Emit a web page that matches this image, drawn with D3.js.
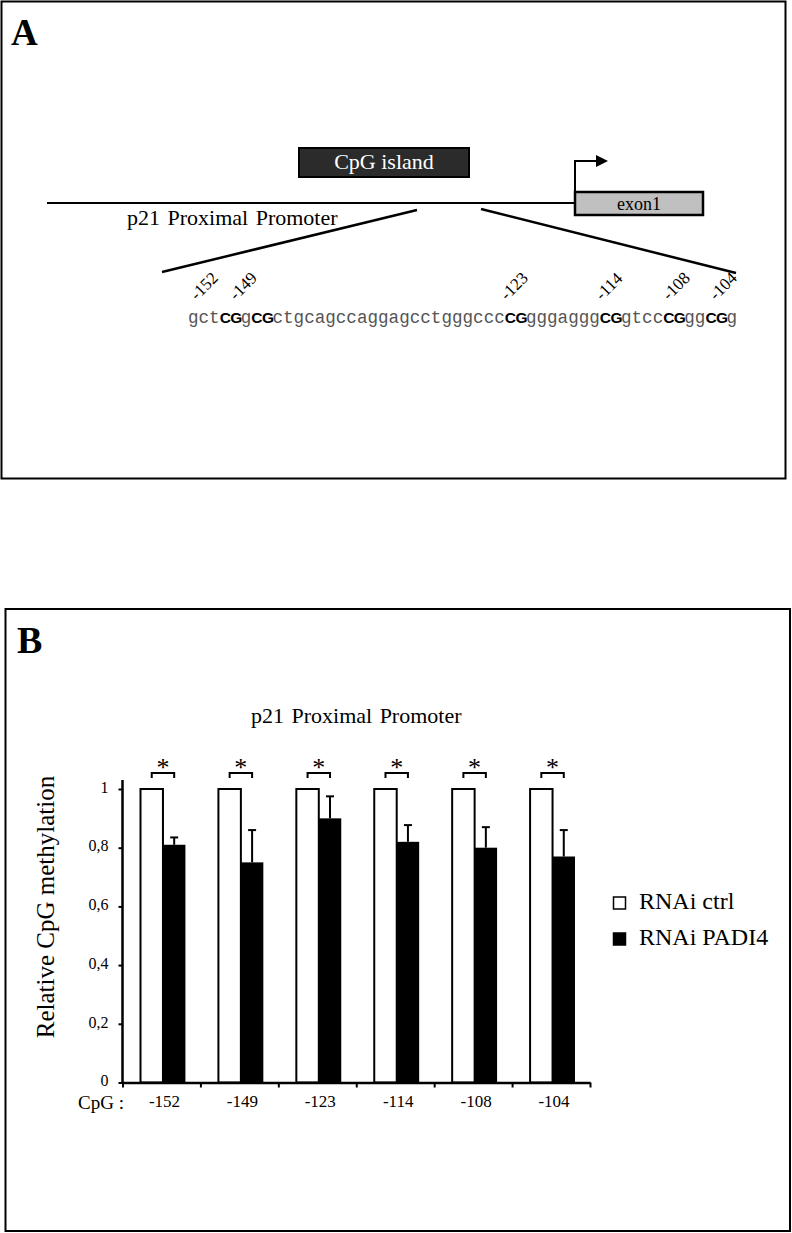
<!DOCTYPE html>
<html>
<head>
<meta charset="utf-8">
<script src="https://cdn.jsdelivr.net/npm/d3@7"></script>
<style>
  body { margin: 0; background: #fff; }
  svg { display: block; }
  text { font-family: "Liberation Serif", "Times New Roman", serif; fill: #000; }
</style>
</head>
<body>
<script>
// data
const cpgSites = ["-152", "-149", "-123", "-114", "-108", "-104"];
const ctrlValues = [1, 1, 1, 1, 1, 1];
const padi4Values = [0.81, 0.75, 0.90, 0.82, 0.80, 0.77];
const padi4Errors = [0.025, 0.11, 0.075, 0.057, 0.07, 0.09];
const yTicks = [0, 0.2, 0.4, 0.6, 0.8, 1];
const seriesNames = ["RNAi ctrl", "RNAi PADI4"];
const seqParts = ["gct", "CG", "g", "CG", "ctgcagccaggagcctgggccc", "CG", "gggaggg", "CG", "gtcc", "CG", "gg", "CG", "g"];

// layout of the diagram labels (x of each rotated site label)
const siteLabelX = [197, 236, 507, 602, 669, 716];

const width = 792, height = 1233;
const SERIF = "'Liberation Serif', 'Times New Roman', serif";

const svg = d3.select("body")
  .append("svg")
  .attr("width", width)
  .attr("height", height);

svg.append("rect").attr("width", width).attr("height", height).attr("fill", "#fff");

// ---------- Panel A : promoter diagram ----------
const pa = svg.append("g");

pa.append("rect")
  .attr("x", 1.5).attr("y", 1.5)
  .attr("width", 784).attr("height", 477)
  .attr("fill", "none").attr("stroke", "#000").attr("stroke-width", 2);

pa.append("text")
  .attr("x", 11).attr("y", 45)
  .style("font-family", SERIF)
  .attr("font-size", 37).attr("font-weight", "bold")
  .text("A");

// promoter line
pa.append("line")
  .attr("x1", 47).attr("x2", 575).attr("y1", 203).attr("y2", 203)
  .attr("stroke", "#000").attr("stroke-width", 2);

// CpG island box
pa.append("rect")
  .attr("x", 299).attr("y", 148).attr("width", 170).attr("height", 29)
  .attr("fill", "#2b2b2b").attr("stroke", "#000").attr("stroke-width", 2);
pa.append("text")
  .attr("x", 384).attr("y", 169)
  .attr("text-anchor", "middle").attr("font-size", 22)
  .style("font-family", SERIF)
  .style("fill", "#fff")
  .text("CpG island");

// exon box
pa.append("rect")
  .attr("x", 575).attr("y", 192).attr("width", 128).attr("height", 23)
  .attr("fill", "#c0c0c0").attr("stroke", "#000").attr("stroke-width", 2.5);
pa.append("text")
  .attr("x", 639).attr("y", 210)
  .attr("text-anchor", "middle").attr("font-size", 18)
  .style("font-family", SERIF)
  .text("exon1");

// transcription start arrow
pa.append("path")
  .attr("d", "M575,192V161H598")
  .attr("fill", "none").attr("stroke", "#000").attr("stroke-width", 2);
pa.append("path")
  .attr("d", "M596,155L608,161L596,167Z")
  .attr("fill", "#000");

pa.append("text")
  .attr("x", 127).attr("y", 225)
  .attr("font-size", 22).attr("word-spacing", 2)
  .style("font-family", SERIF)
  .text("p21 Proximal Promoter");

// zoom-in lines
pa.append("line")
  .attr("x1", 417).attr("y1", 210).attr("x2", 162).attr("y2", 272)
  .attr("stroke", "#000").attr("stroke-width", 2.5);
pa.append("line")
  .attr("x1", 481).attr("y1", 209).attr("x2", 736).attr("y2", 273)
  .attr("stroke", "#000").attr("stroke-width", 2.5);

// sequence
const seqX0 = 188, charW = 10.56, seqY = 323;
let idx = 0;
seqParts.forEach(p => {
  const isCG = p === "CG";
  pa.append("text")
    .attr("x", seqX0 + idx * charW)
    .attr("y", seqY)
    .style("font-family", isCG ? "'Liberation Sans', Arial, sans-serif" : "'Liberation Mono', 'Courier New', monospace")
    .style("fill", isCG ? "#000" : "#555")
    .attr("font-size", isCG ? 15.5 : 17.6)
    .attr("font-weight", isCG ? "bold" : "normal")
    .attr("letter-spacing", isCG ? -0.6 : 0)
    .text(p);
  idx += p.length;
});

// site labels
cpgSites.forEach((s, i) => {
  pa.append("text")
    .attr("transform", `translate(${siteLabelX[i]},301) rotate(-45)`)
    .attr("font-size", 17)
    .style("font-family", SERIF)
    .text(s);
});

// ---------- Panel B : bar chart ----------
const pb = svg.append("g");

pb.append("rect")
  .attr("x", 5.5).attr("y", 609)
  .attr("width", 784.5).attr("height", 622)
  .attr("fill", "none").attr("stroke", "#000").attr("stroke-width", 2);

pb.append("text")
  .attr("x", 17).attr("y", 653)
  .attr("font-size", 38).attr("font-weight", "bold")
  .style("font-family", SERIF)
  .text("B");

const plot = { left: 122.5, right: 590, top: 789, bottom: 1082.5 };

const x = d3.scaleBand()
  .domain(cpgSites)
  .range([plot.left, plot.right])
  .paddingInner(0).paddingOuter(0);

const xInner = d3.scaleBand()
  .domain(seriesNames)
  .range([18, x.bandwidth() - 15]);

const y = d3.scaleLinear()
  .domain([0, 1])
  .range([plot.bottom, plot.top]);

pb.append("text")
  .attr("x", (plot.left + plot.right) / 2).attr("y", 723)
  .attr("text-anchor", "middle").attr("font-size", 22).attr("word-spacing", 2)
  .style("font-family", SERIF)
  .text("p21 Proximal Promoter");

// bars
const rows = cpgSites.map((s, i) => ({ site: s, ctrl: ctrlValues[i], padi4: padi4Values[i], err: padi4Errors[i] }));

const groups = pb.selectAll(".grp")
  .data(rows)
  .enter()
  .append("g")
  .attr("class", "grp")
  .attr("transform", d => `translate(${x(d.site)},0)`);

groups.append("rect")
  .attr("x", xInner(seriesNames[0]))
  .attr("y", d => y(d.ctrl))
  .attr("width", xInner.bandwidth())
  .attr("height", d => y(0) - y(d.ctrl))
  .attr("fill", "#fff").attr("stroke", "#000").attr("stroke-width", 2);

groups.append("rect")
  .attr("x", xInner(seriesNames[1]))
  .attr("y", d => y(d.padi4))
  .attr("width", xInner.bandwidth())
  .attr("height", d => y(0) - y(d.padi4))
  .attr("fill", "#000");

// error bars (upper only)
const ecx = xInner(seriesNames[1]) + xInner.bandwidth() / 2;
groups.append("line")
  .attr("x1", ecx).attr("x2", ecx)
  .attr("y1", d => y(d.padi4))
  .attr("y2", d => y(d.padi4 + d.err))
  .attr("stroke", "#000").attr("stroke-width", 2);
groups.append("line")
  .attr("x1", ecx - 4).attr("x2", ecx + 4)
  .attr("y1", d => y(d.padi4 + d.err))
  .attr("y2", d => y(d.padi4 + d.err))
  .attr("stroke", "#000").attr("stroke-width", 2);

// significance brackets
const bx1 = xInner(seriesNames[0]) + xInner.bandwidth() / 2;
groups.append("path")
  .attr("d", `M${bx1},778V773H${ecx}V778`)
  .attr("fill", "none").attr("stroke", "#000").attr("stroke-width", 2);
groups.append("text")
  .attr("x", (bx1 + ecx) / 2).attr("y", 776)
  .attr("text-anchor", "middle").attr("font-size", 26)
  .style("font-family", SERIF)
  .text("*");

// y axis
const yAxis = d3.axisLeft(y)
  .tickValues(yTicks)
  .tickFormat(d => d3.format("")(d).replace(".", ","))
  .tickSize(4)
  .tickPadding(10);

const yg = pb.append("g")
  .attr("transform", `translate(${plot.left},0)`)
  .call(yAxis);
yg.select(".domain").remove();
yg.selectAll(".tick line").attr("stroke-width", 2);
yg.selectAll(".tick text")
  .style("font-family", SERIF)
  .attr("font-size", 16)
  .attr("dy", "0.2em");
yg.append("line")
  .attr("y1", 780).attr("y2", plot.bottom + 1)
  .attr("stroke", "#000").attr("stroke-width", 2.5);

// x axis: ticks at band boundaries
const xb = d3.scaleLinear().domain([0, cpgSites.length]).range([plot.left, plot.right]);
const xbAxis = d3.axisBottom(xb)
  .tickValues(d3.range(cpgSites.length + 1))
  .tickFormat("")
  .tickSize(5)
  .tickSizeOuter(0);
const xg = pb.append("g")
  .attr("transform", `translate(0,${plot.bottom})`)
  .call(xbAxis);
xg.select(".domain").attr("stroke-width", 2.5);
xg.selectAll(".tick line").attr("stroke-width", 2);

// x labels at band centers
const xlAxis = d3.axisBottom(x).tickSize(0).tickPadding(12);
const xl = pb.append("g")
  .attr("transform", `translate(3,${plot.bottom})`)
  .call(xlAxis);
xl.select(".domain").remove();
xl.selectAll(".tick text")
  .style("font-family", SERIF)
  .attr("font-size", 17);

pb.append("text")
  .attr("x", 78).attr("y", 1109)
  .attr("font-size", 19)
  .style("font-family", SERIF)
  .text("CpG :");

// y label
pb.append("text")
  .attr("transform", "translate(54,907) rotate(-90)")
  .attr("text-anchor", "middle")
  .attr("font-size", 25)
  .style("font-family", SERIF)
  .text("Relative CpG methylation");

// legend
const legend = pb.append("g");
seriesNames.forEach((name, i) => {
  legend.append("rect")
    .attr("x", 613.5).attr("y", 897 + i * 36)
    .attr("width", 12).attr("height", 12)
    .attr("fill", i === 0 ? "#fff" : "#000")
    .attr("stroke", "#000").attr("stroke-width", 1.5);
  legend.append("text")
    .attr("x", 639).attr("y", 909 + i * 36)
    .attr("font-size", 24)
    .style("font-family", SERIF)
    .text(name);
});
</script>
</body>
</html>
